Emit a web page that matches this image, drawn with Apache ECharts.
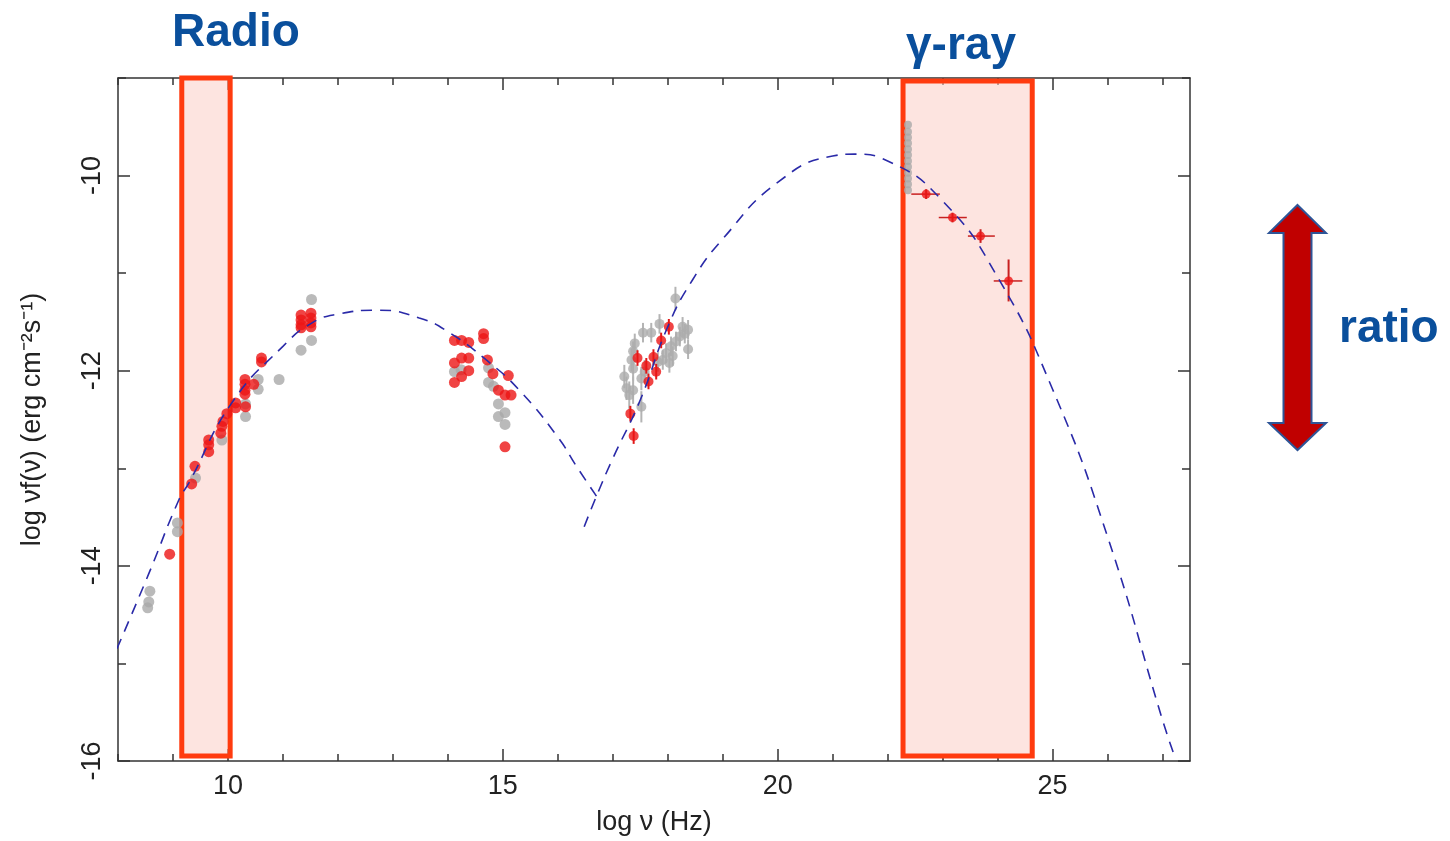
<!DOCTYPE html>
<html>
<head>
<meta charset="utf-8">
<script src="https://cdn.jsdelivr.net/npm/echarts@6/dist/echarts.min.js"></script>
<style>
html,body{margin:0;padding:0;background:#fff;}
#chart{width:1450px;height:841px;}
</style>
</head>
<body>
<div id="chart"></div>
<script>
// ---- tick labels ----
const xMajorTicks = [10, 15, 20, 25];
const xMinorTicks = [8, 9, 10, 11, 12, 13, 14, 15, 16, 17, 18, 19, 20, 21, 22, 23, 24, 25, 26, 27];
const yMajorTicks = [-16, -14, -12, -10];
const yMinorTicks = [-16, -15, -14, -13, -12, -11, -10, -9];

// ---- model curves ----
const syncCurve = [
  [7.98, -14.85], [8.56, -14.08], [9.11, -13.32], [9.29, -13.15], [10.07, -12.33],
  [11.0, -11.75], [11.53, -11.51], [12.0, -11.42], [12.75, -11.38], [13.48, -11.46],
  [14.0, -11.60], [14.7, -11.89], [15.3, -12.20], [16.0, -12.68], [16.34, -12.98], [16.78, -13.35]
];
const icCurve = [
  [16.48, -13.60], [16.70, -13.29], [17.0, -12.90], [17.5, -12.30], [18.0, -11.55],
  [18.45, -11.07], [19.0, -10.65], [20.0, -10.07], [21.0, -9.80], [21.4, -9.78],
  [22.0, -9.85], [23.0, -10.26], [24.0, -11.04], [25.0, -12.19], [26.0, -13.70],
  [27.0, -15.58], [27.2, -15.92]
];

// ---- observed points ----
const redPoints = [
  [8.94, -13.88], [9.34, -13.16], [9.40, -12.98], [9.65, -12.71], [9.65, -12.76], [9.65, -12.83],
  [9.87, -12.64], [9.89, -12.57], [9.91, -12.52], [9.98, -12.44], [10.14, -12.33], [10.14, -12.38],
  [10.31, -12.09], [10.31, -12.14], [10.31, -12.20], [10.31, -12.24], [10.32, -12.37], [10.47, -12.14],
  [10.61, -11.87], [10.61, -11.91], [11.33, -11.43], [11.33, -11.48], [11.33, -11.53], [11.33, -11.56],
  [11.51, -11.41], [11.51, -11.46], [11.51, -11.51], [11.51, -11.55],
  [14.12, -11.69], [14.25, -11.69], [14.38, -11.71], [14.12, -11.92], [14.25, -11.87], [14.38, -11.87],
  [14.38, -12.00], [14.25, -12.06], [14.12, -12.12], [14.65, -11.62], [14.65, -11.67], [14.72, -11.89],
  [14.82, -12.03], [15.10, -12.05], [14.92, -12.20], [15.04, -12.25], [15.15, -12.25], [15.04, -12.78]
];
const grayPoints = [
  [8.54, -14.43], [8.56, -14.37], [8.58, -14.26], [9.08, -13.56], [9.08, -13.65],
  [9.41, -13.10], [9.89, -12.71], [10.32, -12.47], [10.32, -12.34], [10.55, -12.09], [10.55, -12.19],
  [10.93, -12.09], [11.33, -11.79], [11.52, -11.27], [11.52, -11.69],
  [14.12, -12.01], [14.24, -11.99], [14.74, -11.97], [14.74, -12.12], [14.83, -12.16],
  [14.92, -12.34], [14.92, -12.47], [15.04, -12.43], [15.04, -12.55]
];
// x-ray: [logNu, logNuFnu, yError]
const grayXray = [
  [18.14, -11.26, 0.12], [17.55, -11.61, 0.10], [17.70, -11.61, 0.10], [17.85, -11.52, 0.10],
  [17.40, -11.72, 0.10], [17.37, -11.80, 0.10], [17.34, -11.89, 0.12], [17.37, -11.98, 0.12],
  [17.21, -12.06, 0.12], [17.25, -12.18, 0.12], [17.30, -12.25, 0.14], [17.37, -12.20, 0.14],
  [17.52, -12.37, 0.16], [17.52, -12.08, 0.12], [17.58, -12.01, 0.12], [17.91, -11.89, 0.10],
  [17.97, -11.82, 0.10], [18.06, -11.75, 0.10], [18.15, -11.70, 0.10], [18.22, -11.65, 0.10],
  [18.31, -11.62, 0.10], [18.37, -11.58, 0.10], [18.37, -11.78, 0.10], [18.27, -11.55, 0.10],
  [18.03, -11.92, 0.10], [18.09, -11.85, 0.10], [17.82, -11.91, 0.10]
];
const redXray = [
  [18.02, -11.55, 0.08], [17.88, -11.69, 0.08], [17.45, -11.87, 0.08], [17.74, -11.86, 0.08],
  [17.61, -11.95, 0.08], [17.79, -12.01, 0.08], [17.65, -12.11, 0.08], [17.32, -12.44, 0.08],
  [17.38, -12.67, 0.08]
];
// gamma-ray: gray stack near 22.37
const grayGamma = [
  [22.37, -9.48], [22.37, -9.55], [22.37, -9.61], [22.37, -9.67], [22.37, -9.73], [22.37, -9.79],
  [22.37, -9.85], [22.37, -9.91], [22.37, -9.97], [22.37, -10.03], [22.37, -10.09], [22.37, -10.15]
];
// red gamma: [logNu, logNuFnu, xLow, xHigh, yLow, yHigh]
const redGamma = [
  [22.70, -10.19, 22.43, 22.95, -10.24, -10.14],
  [23.18, -10.43, 22.93, 23.44, -10.48, -10.38],
  [23.69, -10.62, 23.46, 23.95, -10.69, -10.55],
  [24.20, -11.08, 23.93, 24.45, -11.29, -10.86]
];
// bands
const radioBand = [9.16, 10.04, -9.0, -15.95];
const gammaBand = [22.28, 24.63, -9.03, -15.95];

const FONT = 'Liberation Sans, Arial, sans-serif';
const chart = echarts.init(document.getElementById('chart'));

const xBase = {min: 8, max: 27.5, gridIndex: 0, splitLine: {show: false}};
const yBase = {min: -16, max: -9, gridIndex: 0, splitLine: {show: false}};
const lineStyle = {color: '#333', width: 1.5};

function errRender(params, api) {
  const x = api.value(0), y = api.value(1);
  const xl = api.value(2), xh = api.value(3), yl = api.value(4), yh = api.value(5);
  const children = [];
  const color = api.visual('color');
  if (xl !== xh) {
    const a = api.coord([xl, y]), b = api.coord([xh, y]);
    children.push({type: 'line', shape: {x1: a[0], y1: a[1], x2: b[0], y2: b[1]}, style: {stroke: color, lineWidth: 1.5}});
  }
  if (yl !== yh) {
    const a = api.coord([x, yl]), b = api.coord([x, yh]);
    children.push({type: 'line', shape: {x1: a[0], y1: a[1], x2: b[0], y2: b[1]}, style: {stroke: color, lineWidth: 2}});
  }
  return {type: 'group', children};
}

const grayErr = grayXray.map(d => [d[0], d[1], d[0], d[0], d[1] - d[2], d[1] + d[2]]);
const redErr = redXray.map(d => [d[0], d[1], d[0], d[0], d[1] - d[2], d[1] + d[2]]);

const option = {
  backgroundColor: '#fff',
  animation: false,
  grid: {left: 118, right: 260, top: 78, bottom: 79},
  xAxis: [
    Object.assign({}, xBase, {
      type: 'value', position: 'bottom',
      axisLine: {show: true, lineStyle},
      axisTick: {show: true, inside: true, length: 12, customValues: xMajorTicks, lineStyle},
      axisLabel: {show: true, customValues: xMajorTicks, color: '#222', fontSize: 27, fontFamily: FONT, margin: 12},
      name: 'log ν (Hz)', nameLocation: 'middle', nameGap: 48,
      nameTextStyle: {color: '#222', fontSize: 27, fontFamily: FONT}
    }),
    Object.assign({}, xBase, {
      type: 'value', position: 'bottom',
      axisLine: {show: false},
      axisTick: {show: true, inside: true, length: 7, customValues: xMinorTicks, lineStyle},
      axisLabel: {show: false}
    }),
    Object.assign({}, xBase, {
      type: 'value', position: 'top',
      axisLine: {show: true, lineStyle},
      axisTick: {show: true, inside: true, length: 12, customValues: xMajorTicks, lineStyle},
      axisLabel: {show: false}
    }),
    Object.assign({}, xBase, {
      type: 'value', position: 'top',
      axisLine: {show: false},
      axisTick: {show: true, inside: true, length: 7, customValues: xMinorTicks, lineStyle},
      axisLabel: {show: false}
    })
  ],
  yAxis: [
    Object.assign({}, yBase, {
      type: 'value', position: 'left',
      axisLine: {show: true, lineStyle},
      axisTick: {show: true, inside: true, length: 12, customValues: yMajorTicks, lineStyle},
      axisLabel: {show: true, customValues: yMajorTicks, rotate: 90, color: '#222', fontSize: 27, fontFamily: FONT, margin: 12},
      name: 'log νf(ν) (erg cm⁻²s⁻¹)', nameLocation: 'middle', nameGap: 72, nameRotate: 90,
      nameTextStyle: {color: '#222', fontSize: 27, fontFamily: FONT}
    }),
    Object.assign({}, yBase, {
      type: 'value', position: 'left',
      axisLine: {show: false},
      axisTick: {show: true, inside: true, length: 8, customValues: yMinorTicks, lineStyle},
      axisLabel: {show: false}
    }),
    Object.assign({}, yBase, {
      type: 'value', position: 'right',
      axisLine: {show: true, lineStyle},
      axisTick: {show: true, inside: true, length: 12, customValues: yMajorTicks, lineStyle},
      axisLabel: {show: false}
    }),
    Object.assign({}, yBase, {
      type: 'value', position: 'right',
      axisLine: {show: false},
      axisTick: {show: true, inside: true, length: 8, customValues: yMinorTicks, lineStyle},
      axisLabel: {show: false}
    })
  ],
  series: [
    {
      type: 'scatter', data: [], z: 1, silent: true,
      markArea: {
        silent: true,
        itemStyle: {color: 'rgba(252, 205, 198, 0.55)', borderColor: '#ff3b0f', borderWidth: 5},
        data: [
          [{coord: [radioBand[0], radioBand[2]]}, {coord: [radioBand[1], radioBand[3]]}],
          [{coord: [gammaBand[0], gammaBand[2]]}, {coord: [gammaBand[1], gammaBand[3]]}]
        ]
      }
    },
    {type: 'custom', renderItem: errRender, data: grayErr, itemStyle: {color: '#b4b4b4'}, z: 2, silent: true},
    {type: 'scatter', data: grayXray.map(d => [d[0], d[1]]), symbolSize: 10, itemStyle: {color: '#acacac'}, z: 3, silent: true},
    {type: 'scatter', data: grayPoints, symbolSize: 11, itemStyle: {color: '#a9a9a9'}, z: 3, silent: true},
    {type: 'scatter', data: grayGamma, symbolSize: 8, itemStyle: {color: '#a9a9a9'}, z: 3, silent: true},
    {type: 'custom', renderItem: errRender, data: redErr, itemStyle: {color: '#e01818'}, z: 4, silent: true},
    {type: 'custom', renderItem: errRender, data: redGamma, itemStyle: {color: '#c82020'}, z: 4, silent: true},
    {type: 'scatter', data: redPoints, symbolSize: 11, itemStyle: {color: '#ec1515'}, z: 5, silent: true},
    {type: 'scatter', data: redXray.map(d => [d[0], d[1]]), symbolSize: 10, itemStyle: {color: '#ec1515'}, z: 5, silent: true},
    {type: 'scatter', data: redGamma.map(d => [d[0], d[1]]), symbolSize: 9, itemStyle: {color: '#ec1515'}, z: 5, silent: true},
    {type: 'line', data: syncCurve, smooth: true, showSymbol: false, symbol: 'none', z: 6, silent: true,
      lineStyle: {color: '#2a2aa8', width: 1.6, type: [11, 8]}},
    {type: 'line', data: icCurve, smooth: true, showSymbol: false, symbol: 'none', z: 6, silent: true,
      lineStyle: {color: '#2a2aa8', width: 1.6, type: [11, 8]}}
  ],
  graphic: [
    {type: 'text', left: 172, top: 10, z: 10,
      style: {text: 'Radio', fill: '#0a4f9c', font: 'bold 46px ' + FONT}},
    {type: 'text', left: 906, top: 23, z: 10,
      style: {text: 'γ-ray', fill: '#0a4f9c', font: 'bold 46px ' + FONT}},
    {type: 'text', left: 1339, top: 306, z: 10,
      style: {text: 'ratio', fill: '#0a4f9c', font: 'bold 46px ' + FONT}},
    {type: 'polygon', z: 10,
      shape: {points: [[1297.5, 205], [1326, 233], [1311.5, 233], [1311.5, 423], [1326, 423],
                       [1297.5, 450], [1269, 423], [1283.5, 423], [1283.5, 233], [1269, 233]]},
      style: {fill: '#c00000', stroke: '#2e5597', lineWidth: 2}}
  ]
};
chart.setOption(option);
</script>
</body>
</html>
